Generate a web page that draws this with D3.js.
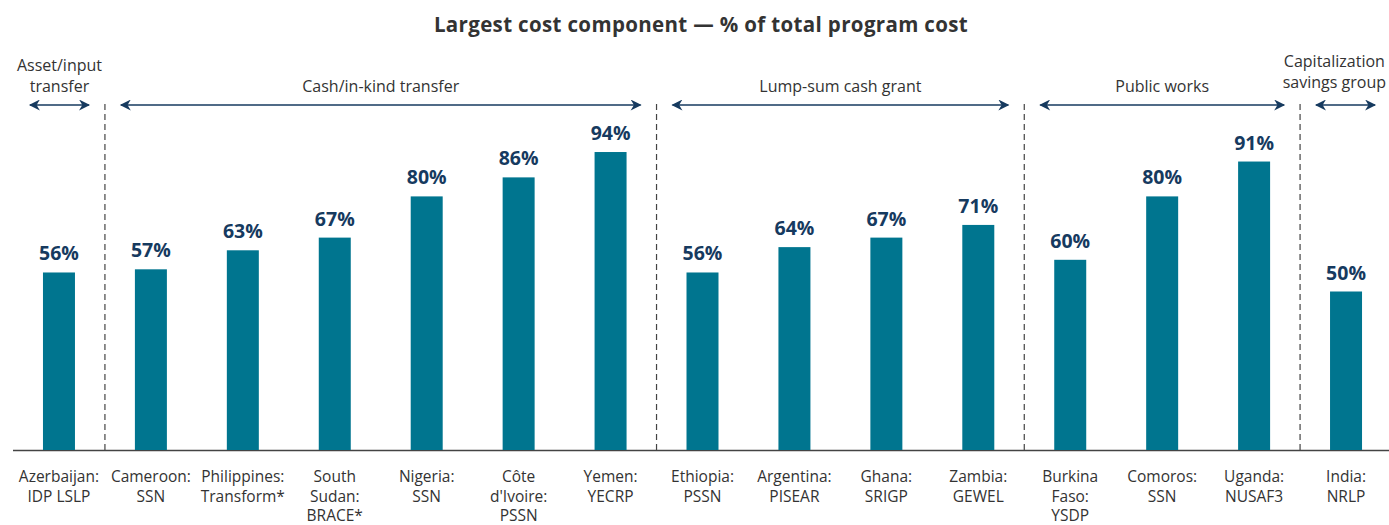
<!DOCTYPE html>
<html>
<head>
<meta charset="utf-8">
<script src="https://cdn.jsdelivr.net/npm/d3@7"></script>
<style>
  body { margin: 0; background: #fff; }
  svg { display: block; font-family: "Open Sans", Lato, sans-serif; }
</style>
</head>
<body>
<svg width="1389" height="525"></svg>
<script>
// data
var programs = ["Azerbaijan: IDP LSLP", "Cameroon: SSN", "Philippines: Transform*", "South Sudan: BRACE*",
	"Nigeria: SSN", "Côte d'Ivoire: PSSN", "Yemen: YECRP", "Ethiopia: PSSN", "Argentina: PISEAR",
	"Ghana: SRIGP", "Zambia: GEWEL", "Burkina Faso: YSDP", "Comoros: SSN", "Uganda: NUSAF3", "India: NRLP"];
var labelLines = [["Azerbaijan:", "IDP LSLP"], ["Cameroon:", "SSN"], ["Philippines:", "Transform*"],
	["South", "Sudan:", "BRACE*"], ["Nigeria:", "SSN"], ["Côte", "d'Ivoire:", "PSSN"], ["Yemen:", "YECRP"],
	["Ethiopia:", "PSSN"], ["Argentina:", "PISEAR"], ["Ghana:", "SRIGP"], ["Zambia:", "GEWEL"],
	["Burkina", "Faso:", "YSDP"], ["Comoros:", "SSN"], ["Uganda:", "NUSAF3"], ["India:", "NRLP"]];
var shares = [56, 57, 63, 67, 80, 86, 94, 56, 64, 67, 71, 60, 80, 91, 50];

// groups: first and last program index of each
var groups = [
	{name: ["Asset/input", "transfer"], from: 0, to: 0},
	{name: ["Cash/in-kind transfer"], from: 1, to: 6},
	{name: ["Lump-sum cash grant"], from: 7, to: 10},
	{name: ["Public works"], from: 11, to: 13},
	{name: ["Capitalization", "savings group"], from: 14, to: 14}
];

var svg = d3.select("svg"),
	width = 1389,
	height = 525;

var barColor = "#00758f",
	navy = "#163a5f",
	textColor = "#333333";

var x = d3.scaleBand()
	.domain(programs)
	.range([13, 1392])
	.paddingInner(0.652)
	.paddingOuter(0.326);

var y = d3.scaleLinear()
	.domain([0, 100])
	.range([450, 133]);

svg.append("defs").append("marker")
	.attr("id", "head")
	.attr("viewBox", "0 0 10 10")
	.attr("refX", 9).attr("refY", 5)
	.attr("markerWidth", 14).attr("markerHeight", 11)
	.attr("markerUnits", "userSpaceOnUse")
	.attr("orient", "auto-start-reverse")
	.append("path")
	.attr("d", "M0,0 L10,5 L0,10 L3,5 Z")
	.attr("fill", navy);

// title
svg.append("text")
	.attr("x", 701)
	.attr("y", 32)
	.attr("text-anchor", "middle")
	.attr("font-size", 20.5)
	.attr("letter-spacing", 0.35)
	.attr("font-weight", "bold")
	.attr("fill", textColor)
	.text("Largest cost component — % of total program cost");

// dashed separators between groups
var step = x.step();
var seps = groups.slice(1).map(function(g){ return x(programs[g.from]) + x.bandwidth() / 2 - step / 2; });

svg.selectAll(".sep")
	.data(seps)
	.enter().append("line")
	.attr("x1", function(d){ return d; })
	.attr("x2", function(d){ return d; })
	.attr("y1", 104)
	.attr("y2", 450)
	.attr("stroke", "#444")
	.attr("stroke-width", 1.2)
	.attr("stroke-dasharray", "6,4");

// group arrows and names
groups.forEach(function(g, i){
	var left = i == 0 ? x.range()[0] + 17 : seps[i - 1] + 16,
		right = i == groups.length - 1 ? x.range()[1] - 17 : seps[i] - 16;

	svg.append("line")
		.attr("x1", left).attr("x2", right)
		.attr("y1", 105).attr("y2", 105)
		.attr("stroke", navy)
		.attr("stroke-width", 1.5)
		.attr("marker-start", "url(#head)")
		.attr("marker-end", "url(#head)");

	var t = svg.append("text")
		.attr("text-anchor", "middle")
		.attr("font-size", 16)
		.attr("fill", textColor);
	var lastY = i == groups.length - 1 ? 88 : 92;
	var top = lastY - (g.name.length - 1) * 21.5;
	g.name.forEach(function(line, j){
		t.append("tspan")
			.attr("x", (left + right) / 2)
			.attr("y", top + j * 21.5)
			.text(line);
	});
	// keep the label inside the page
	var box = t.node().getBBox();
	if (box.x + box.width > width - 3) {
		t.selectAll("tspan").attr("x", (left + right) / 2 - (box.x + box.width - width + 3));
	}
});

// baseline
svg.append("line")
	.attr("x1", 13).attr("x2", width)
	.attr("y1", 450.5).attr("y2", 450.5)
	.attr("stroke", "#444")
	.attr("stroke-width", 1.3);

// bars
svg.selectAll(".bar")
	.data(shares)
	.enter().append("rect")
	.attr("class", "bar")
	.attr("x", function(d, i){ return x(programs[i]); })
	.attr("y", function(d){ return y(d); })
	.attr("width", x.bandwidth())
	.attr("height", function(d){ return y(0) - y(d); })
	.attr("fill", barColor);

// value labels
svg.selectAll(".val")
	.data(shares)
	.enter().append("text")
	.attr("x", function(d, i){ return x(programs[i]) + x.bandwidth() / 2; })
	.attr("y", function(d){ return y(d) - 12; })
	.attr("text-anchor", "middle")
	.attr("font-size", 19.5)
	.attr("font-weight", "bold")
	.attr("fill", navy)
	.text(function(d){ return d + "%"; });

// category labels
var cat = svg.selectAll(".cat")
	.data(labelLines)
	.enter().append("text")
	.attr("text-anchor", "middle")
	.attr("font-size", 15.5)
	.attr("fill", textColor);

cat.each(function(lines, i){
	var cx = x(programs[i]) + x.bandwidth() / 2;
	d3.select(this).selectAll("tspan")
		.data(lines)
		.enter().append("tspan")
		.attr("x", cx)
		.attr("y", function(d, j){ return 482 + j * 19.7; })
		.text(function(d){ return d; });
});
</script>
</body>
</html>
